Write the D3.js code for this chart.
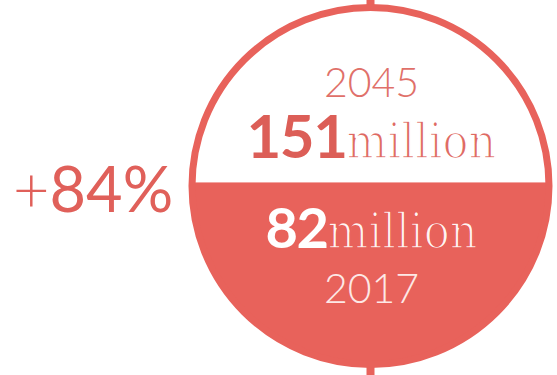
<!DOCTYPE html>
<html>
<head>
<meta charset="utf-8">
<script src="https://cdn.jsdelivr.net/npm/d3@7"></script>
<style>
  body { margin: 0; background: #fff; }
  svg { display: block; }
</style>
</head>
<body>
<div id="chart"></div>
<script>
// values
const years = ["2045", "2017"];
const populations = [151, 82];
const unitLabel = "million";
const fillLevel = [0.51]; // share of the circle height that is filled

const width = 557, height = 375;
const coral = "#e8625b";

const svg = d3.select('#chart')
    .append('svg')
    .attr('width', width)
    .attr('height', height);

const cx = 370.5, cy = 186, r = 178.5;

// level scale: 0 at bottom of circle, 1 at top
const level = d3.scaleLinear()
    .domain([0, 1])
    .range([cy + r, cy - r]);

svg.append('clipPath')
    .attr('id', 'circ')
    .append('circle')
    .attr('cx', cx).attr('cy', cy).attr('r', r);

// ticks above and below
svg.append('line')
    .attr('x1', cx).attr('x2', cx)
    .attr('y1', 0).attr('y2', level(1))
    .attr('stroke', coral).attr('stroke-width', 8);
svg.append('line')
    .attr('x1', cx).attr('x2', cx)
    .attr('y1', level(0)).attr('y2', height)
    .attr('stroke', coral).attr('stroke-width', 8);

svg.append('circle')
    .attr('cx', cx).attr('cy', cy).attr('r', r)
    .attr('fill', '#fff');

// filled part
svg.selectAll('rect.fill')
    .data(fillLevel)
    .enter()
    .append('rect')
    .attr('class', 'fill')
    .attr('clip-path', 'url(#circ)')
    .attr('x', cx - r)
    .attr('width', 2 * r)
    .attr('y', d => level(d))
    .attr('height', d => level(0) - level(d))
    .attr('fill', coral);

svg.append('circle')
    .attr('cx', cx).attr('cy', cy).attr('r', r)
    .attr('fill', 'none')
    .attr('stroke', coral)
    .attr('stroke-width', 7);

// year labels
const yearStyle = [
    { y: cy - 89, color: '#e07069' },
    { y: cy + 117, color: '#fde8e6' }
];
svg.selectAll('text.year')
    .data(years)
    .enter()
    .append('text')
    .attr('class', 'year')
    .attr('x', cx + 1)
    .attr('y', (d, i) => yearStyle[i].y)
    .attr('text-anchor', 'middle')
    .attr('font-family', 'Lato')
    .attr('font-weight', 300)
    .attr('font-size', 41)
    .attr('fill', (d, i) => yearStyle[i].color)
    .text(d => d);

// value labels
const valueStyle = [
    { y: cy - 28, color: '#dc5e57', unitColor: '#de6a63', bg: '#fff' },
    { y: cy + 62, color: '#ffffff', unitColor: '#fff4f2', bg: coral }
];
const vals = svg.selectAll('text.value')
    .data(populations)
    .enter()
    .append('text')
    .attr('class', 'value')
    .attr('x', cx + 1)
    .attr('y', (d, i) => valueStyle[i].y)
    .attr('text-anchor', 'middle');

vals.append('tspan')
    .attr('font-family', 'Lato')
    .attr('font-weight', 700)
    .attr('font-size', (d, i) => i === 0 ? 60 : 56)
    .attr('letter-spacing', -1.5)
    .attr('fill', (d, i) => valueStyle[i].color)
    .text(d => d);

// thin slab look: background-coloured stroke eats into the glyphs
vals.append('tspan')
    .attr('font-family', 'DejaVu Serif Condensed, DejaVu Serif')
    .attr('font-size', 48)
    .attr('fill', (d, i) => valueStyle[i].unitColor)
    .attr('stroke', (d, i) => valueStyle[i].bg)
    .attr('stroke-width', 1.6)
    .text(unitLabel);

// growth label
const growth = Math.round((populations[0] / populations[1] - 1) * 100);
const g = svg.append('text')
    .attr('x', 13)
    .attr('y', 212)
    .attr('font-family', 'Lato')
    .attr('font-size', 63)
    .attr('fill', '#e0605a');
g.append('tspan').attr('font-weight', 300).text('+');
g.append('tspan').attr('font-weight', 400).text(growth + '%');
</script>
</body>
</html>
